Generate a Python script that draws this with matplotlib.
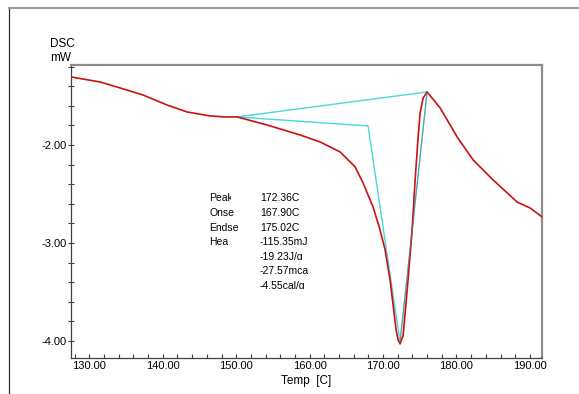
import matplotlib
matplotlib.use('Agg')
import matplotlib.pyplot as plt
from matplotlib.ticker import MultipleLocator, FormatStrFormatter
from matplotlib.lines import Line2D
from matplotlib.transforms import Bbox

plt.rcParams['font.family'] = ['Liberation Sans', 'DejaVu Sans']

# DSC curve (temp in C, heat flow in mW)
temp = [127.50, 131.45, 134.18, 137.31, 140.58, 143.30, 146.44, 148.48, 150.12,
        154.20, 158.70, 161.42, 164.15, 166.20, 167.28, 168.64, 169.60, 170.28,
        170.96, 171.37, 171.78, 172.05, 172.32, 172.60, 172.73, 173.41, 173.96,
        174.37, 174.78, 175.05, 175.46, 176.00, 177.77, 178.18, 180.09, 182.27,
        184.99, 188.26, 190.03, 191.67]
dsc = [-1.306, -1.357, -1.418, -1.490, -1.592, -1.663, -1.704, -1.714, -1.714,
       -1.796, -1.898, -1.969, -2.071, -2.224, -2.388, -2.633, -2.867, -3.071,
       -3.378, -3.633, -3.888, -3.990, -4.030, -3.970, -3.949, -3.378, -2.867,
       -2.357, -1.918, -1.673, -1.520, -1.459, -1.622, -1.673, -1.918, -2.153,
       -2.357, -2.582, -2.643, -2.735]

# baseline and tangent construction lines
base_t = [150.12, 176.00]
base_y = [-1.714, -1.459]
tang_t = [150.12, 167.96, 172.32, 176.00]
tang_y = [-1.714, -1.806, -4.010, -1.459]

labels = ['Peak', 'Onset', 'Endset', 'Heat', '', '', '']
values = ['172.36C', '167.90C', '175.02C', '-115.35mJ', '-19.23J/g',
          '-27.57mcal', '-4.55cal/g']

W, H = 579, 394
fig = plt.figure(figsize=(W / 100, H / 100), dpi=100)
ax = fig.add_axes([71 / W, 1 - 358 / H, (542 - 71) / W, (358 - 65) / H])

ax.plot(base_t, base_y, color='#48d8dc', lw=1.0, zorder=2)
ax.plot(tang_t, tang_y, color='#48d8dc', lw=1.0, zorder=2)
ax.plot(temp, dsc, color='#cc1010', lw=1.2, zorder=3)
# where the tangent runs over the flanks the two colours mix to grey
ax.plot(tang_t[2:], tang_y[2:], color='#6a7a80', lw=0.8, alpha=0.6, zorder=4)

ax.set_xlim(127.5, 191.65)
ax.set_ylim(-4.174, -1.184)
ax.xaxis.set_major_locator(MultipleLocator(10))
ax.xaxis.set_minor_locator(MultipleLocator(2))
ax.yaxis.set_major_locator(MultipleLocator(1))
ax.yaxis.set_minor_locator(MultipleLocator(0.2))
ax.xaxis.set_major_formatter(FormatStrFormatter('%.2f'))
ax.yaxis.set_major_formatter(FormatStrFormatter('%.2f'))
ax.tick_params(axis='x', which='both', direction='in', length=3, width=0.8,
               labelsize=8, pad=2, color='#404040')
ax.tick_params(axis='y', which='both', direction='inout', length=4, width=0.8,
               labelsize=8, pad=1, color='#404040')
ax.set_xlabel('Temp  [C]', fontsize=8.5, labelpad=3)

for s in ['left', 'bottom']:
    ax.spines[s].set_color('#404040')
    ax.spines[s].set_linewidth(0.9)
for s in ['top', 'right']:
    ax.spines[s].set_color('#8c8c8c')
    ax.spines[s].set_linewidth(1.6)

fig.text(50 / W, 1 - 44 / H, 'DSC', fontsize=8.5, va='center', ha='left')
t = fig.text(50 / W, 1 - 58 / H, 'mW', fontsize=8.5, va='center', ha='left')
t.set_clip_box(Bbox.from_extents(0, 0, 71, H))
t.set_clip_on(True)

# result table, clipped like the small cells of the original
label_cut = [231, 234, 238, 228, 228, 228, 228]
for i in range(len(values)):
    base = 201.5 + i * 14.6
    if labels[i]:
        t = fig.text(209 / W, 1 - base / H, labels[i], fontsize=7.5, va='baseline')
        t.set_clip_box(Bbox.from_extents(0, H - base - 10, label_cut[i], H - base + 10))
        t.set_clip_on(True)
    t = fig.text(260 / W, 1 - base / H, values[i], fontsize=7.5, va='baseline')
    t.set_clip_box(Bbox.from_extents(0, H - base, 308, H - base + 10))
    t.set_clip_on(True)

# outer window frame
fig.add_artist(Line2D([9 / W, 9 / W], [0, 1 - 8 / H], color='#303030', lw=0.9))
fig.add_artist(Line2D([9 / W, 1], [1 - 8 / H, 1 - 8 / H], color='#999999', lw=1.5))

fig.savefig('out.png', dpi=100)
